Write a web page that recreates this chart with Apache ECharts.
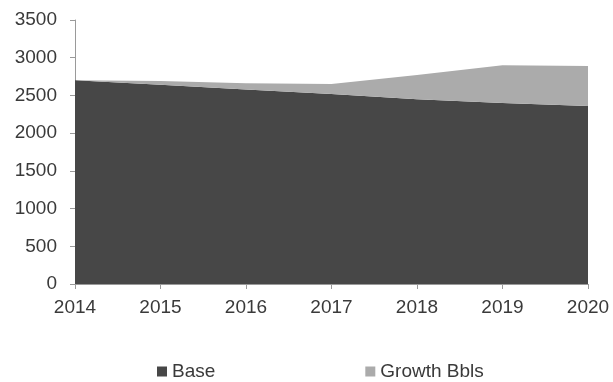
<!DOCTYPE html>
<html>
<head>
<meta charset="utf-8">
<script src="https://cdn.jsdelivr.net/npm/echarts@6/dist/echarts.min.js"></script>
<style>
  html, body { margin: 0; padding: 0; background: #fff; }
  #chart { width: 613px; height: 382px; }
</style>
</head>
<body>
<div id="chart"></div>
<script>
// values
const years = ['2014', '2015', '2016', '2017', '2018', '2019', '2020'];
const baseVals = [2700, 2640, 2580, 2520, 2450, 2400, 2360];
const growthVals = [0, 50, 80, 130, 320, 500, 530];

const FONT = '"Liberation Sans", Arial, sans-serif';
const axisLine = { show: true, lineStyle: { color: '#9a9a9a', width: 1 } };

const chart = echarts.init(document.getElementById('chart'));

chart.setOption({
  animation: false,
  grid: { left: 75, right: 25, top: 20, bottom: 98, containLabel: false },
  legend: {
    top: 357,
    left: 152,
    itemWidth: 10,
    itemHeight: 10,
    itemGap: 150,
    icon: 'rect',
    textStyle: { fontFamily: FONT, fontSize: 19, color: '#3a3a3a' },
    data: ['Base', 'Growth Bbls'],
  },
  xAxis: {
    type: 'category',
    data: years,
    boundaryGap: false,
    axisLine: axisLine,
    axisTick: { show: true, length: 5, lineStyle: { color: '#9a9a9a' } },
    axisLabel: { fontFamily: FONT, fontSize: 19, color: '#3a3a3a', margin: 14 },
  },
  yAxis: {
    type: 'value',
    min: 0,
    max: 3500,
    interval: 500,
    axisLine: axisLine,
    axisTick: { show: true, length: 5, lineStyle: { color: '#9a9a9a' } },
    axisLabel: {
      fontFamily: FONT, fontSize: 19, color: '#3a3a3a', margin: 18,
      formatter: (v) => String(v),
    },
    splitLine: { show: false },
  },
  series: [
    {
      name: 'Base',
      type: 'line',
      stack: 'total',
      data: baseVals,
      symbol: 'none',
      lineStyle: { width: 0 },
      itemStyle: { color: '#474747' },
      areaStyle: { color: '#474747', opacity: 1 },
    },
    {
      name: 'Growth Bbls',
      type: 'line',
      stack: 'total',
      data: growthVals,
      symbol: 'none',
      lineStyle: { width: 0 },
      itemStyle: { color: '#ababab' },
      areaStyle: { color: '#ababab', opacity: 1 },
    },
  ],
});
</script>
</body>
</html>
